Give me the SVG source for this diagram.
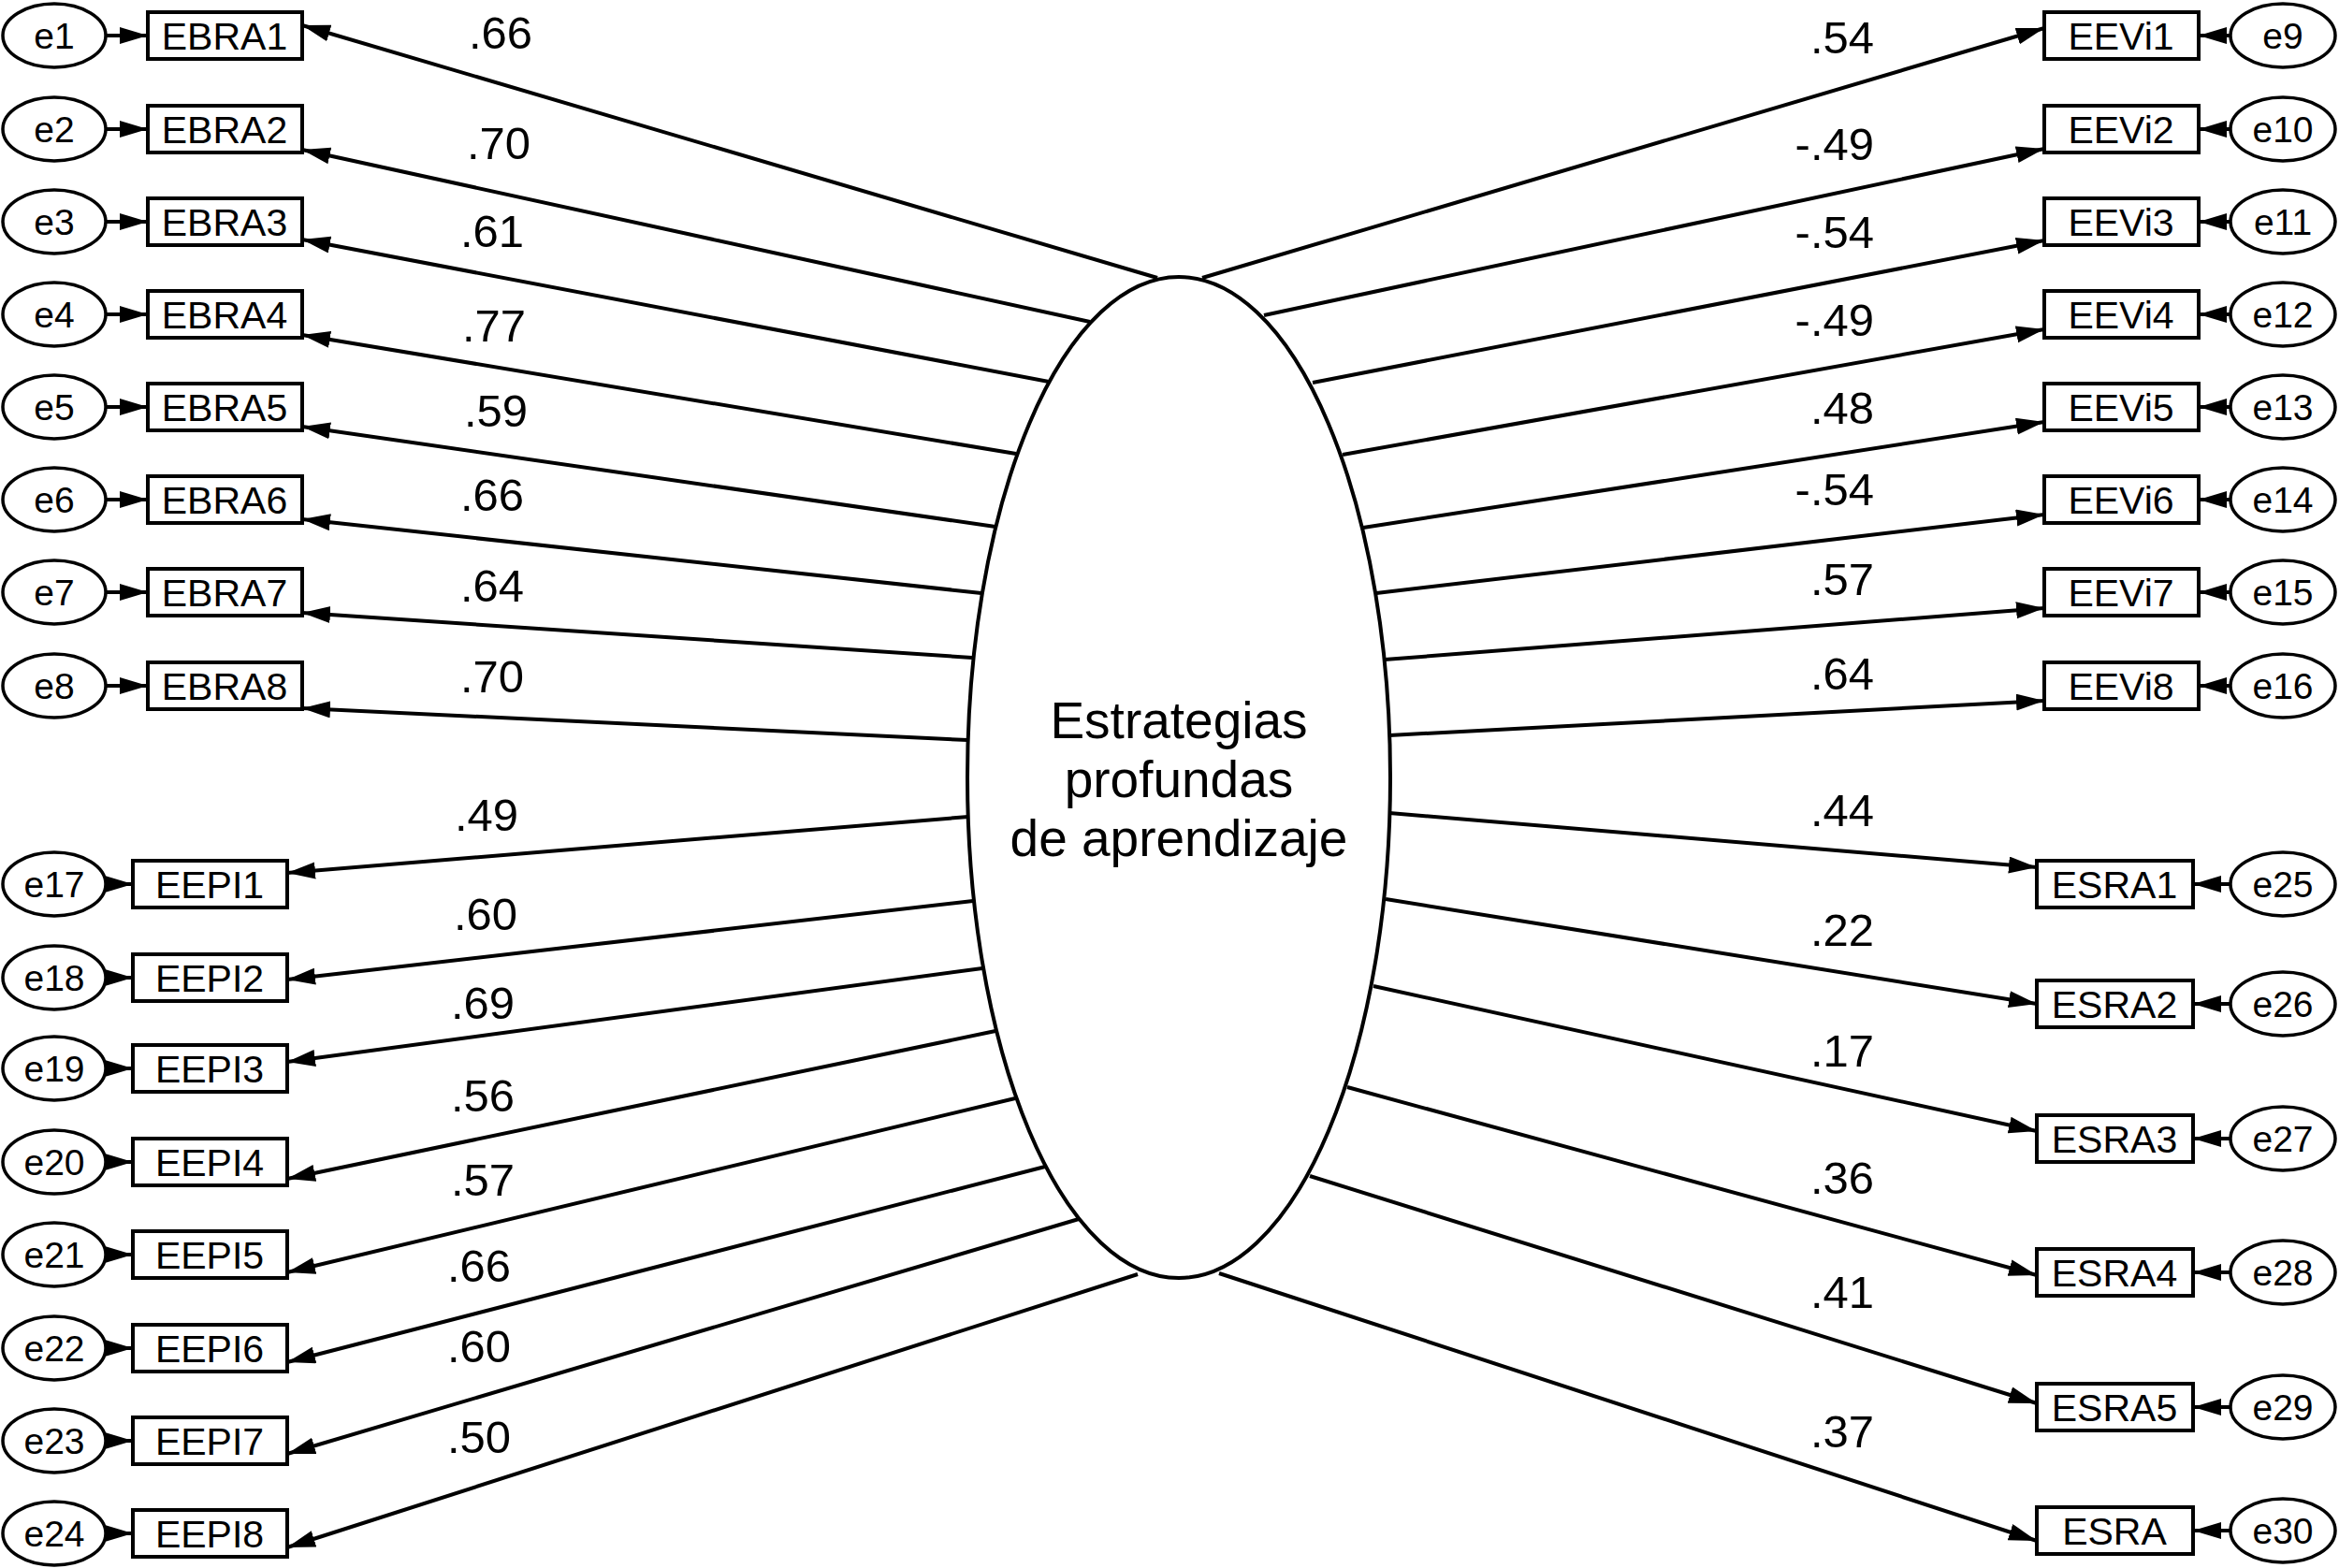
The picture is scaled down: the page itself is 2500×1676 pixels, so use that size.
<svg xmlns="http://www.w3.org/2000/svg" width="2500" height="1676" viewBox="0 0 2500 1676">
<style>
.box{fill:#fff;stroke:#000;stroke-width:4}
.err{fill:#fff;stroke:#000;stroke-width:3.5}
.lat{fill:#fff;stroke:#000;stroke-width:4}
.t{font-family:"Liberation Sans",Arial,sans-serif;font-size:41px;text-anchor:middle;fill:#000}
.te{font-family:"Liberation Sans",Arial,sans-serif;font-size:39px;text-anchor:middle;fill:#000}
.tl{font-family:"Liberation Sans",Arial,sans-serif;font-size:55px;text-anchor:middle;fill:#000}
.w{font-family:"Liberation Sans",Arial,sans-serif;font-size:49px;fill:#000}
.wl{text-anchor:middle}
.wr{text-anchor:end}
.c line{stroke:#000;stroke-width:4;marker-end:url(#ah)}
</style>
<defs>
<marker id="ah" markerUnits="userSpaceOnUse" markerWidth="32" markerHeight="20" refX="30" refY="9" orient="auto" viewBox="0 0 32 20">
<path d="M0,0 L30,9 L0,18 z" fill="#000"/>
</marker>
</defs>
<rect width="2500" height="1676" fill="#fff"/>

<g id="connectors" class="c">
<line x1="1237" y1="297" x2="323" y2="27"/>
<line x1="1165" y1="344" x2="323" y2="160"/>
<line x1="1121" y1="408" x2="323" y2="256"/>
<line x1="1086" y1="485" x2="323" y2="358"/>
<line x1="1064" y1="563" x2="323" y2="456"/>
<line x1="1049" y1="634" x2="323" y2="555"/>
<line x1="1039" y1="703" x2="323" y2="655"/>
<line x1="1034" y1="791" x2="323" y2="757"/>
<line x1="1035" y1="873" x2="307" y2="933"/>
<line x1="1040" y1="963" x2="307" y2="1047"/>
<line x1="1050" y1="1035" x2="307" y2="1135"/>
<line x1="1064" y1="1102" x2="307" y2="1260"/>
<line x1="1085" y1="1174" x2="307" y2="1360"/>
<line x1="1117" y1="1247" x2="307" y2="1456"/>
<line x1="1153" y1="1303" x2="307" y2="1554"/>
<line x1="1216" y1="1362" x2="307" y2="1654"/>
<line x1="1285" y1="297" x2="2185" y2="30"/>
<line x1="1351" y1="337" x2="2185" y2="159"/>
<line x1="1403" y1="409" x2="2185" y2="257"/>
<line x1="1435" y1="486" x2="2185" y2="352"/>
<line x1="1457" y1="564" x2="2185" y2="451"/>
<line x1="1471" y1="634" x2="2185" y2="550"/>
<line x1="1480" y1="705" x2="2185" y2="650"/>
<line x1="1485" y1="786" x2="2185" y2="749"/>
<line x1="1485" y1="869" x2="2177" y2="927"/>
<line x1="1481" y1="961" x2="2177" y2="1073"/>
<line x1="1468" y1="1054" x2="2177" y2="1209"/>
<line x1="1440" y1="1162" x2="2177" y2="1363"/>
<line x1="1400" y1="1257" x2="2177" y2="1500"/>
<line x1="1303" y1="1361" x2="2177" y2="1647"/>
<line x1="113" y1="38" x2="158" y2="38"/>
<line x1="113" y1="138" x2="158" y2="138"/>
<line x1="113" y1="237" x2="158" y2="237"/>
<line x1="113" y1="336" x2="158" y2="336"/>
<line x1="113" y1="435" x2="158" y2="435"/>
<line x1="113" y1="534" x2="158" y2="534"/>
<line x1="113" y1="633" x2="158" y2="633"/>
<line x1="113" y1="733" x2="158" y2="733"/>
<line x1="112" y1="945" x2="142" y2="945"/>
<line x1="112" y1="1045" x2="142" y2="1045"/>
<line x1="112" y1="1142" x2="142" y2="1142"/>
<line x1="112" y1="1242" x2="142" y2="1242"/>
<line x1="112" y1="1341" x2="142" y2="1341"/>
<line x1="112" y1="1441" x2="142" y2="1441"/>
<line x1="112" y1="1540" x2="142" y2="1540"/>
<line x1="112" y1="1639" x2="142" y2="1639"/>
<line x1="2384" y1="38" x2="2350" y2="38"/>
<line x1="2384" y1="138" x2="2350" y2="138"/>
<line x1="2384" y1="237" x2="2350" y2="237"/>
<line x1="2384" y1="336" x2="2350" y2="336"/>
<line x1="2384" y1="435" x2="2350" y2="435"/>
<line x1="2384" y1="534" x2="2350" y2="534"/>
<line x1="2384" y1="633" x2="2350" y2="633"/>
<line x1="2384" y1="733" x2="2350" y2="733"/>
<line x1="2384" y1="945" x2="2344" y2="945"/>
<line x1="2384" y1="1073" x2="2344" y2="1073"/>
<line x1="2384" y1="1217" x2="2344" y2="1217"/>
<line x1="2384" y1="1360" x2="2344" y2="1360"/>
<line x1="2384" y1="1504" x2="2344" y2="1504"/>
<line x1="2384" y1="1636" x2="2344" y2="1636"/>
</g>

<g id="weights" class="w">
<text class="w wl" x="535" y="52">.66</text>
<text class="w wl" x="533" y="170">.70</text>
<text class="w wl" x="526" y="264">.61</text>
<text class="w wl" x="528" y="365">.77</text>
<text class="w wl" x="530" y="456">.59</text>
<text class="w wl" x="526" y="546">.66</text>
<text class="w wl" x="526" y="643">.64</text>
<text class="w wl" x="526" y="740">.70</text>
<text class="w wl" x="520" y="888">.49</text>
<text class="w wl" x="519" y="994">.60</text>
<text class="w wl" x="516" y="1089">.69</text>
<text class="w wl" x="516" y="1188">.56</text>
<text class="w wl" x="516" y="1278">.57</text>
<text class="w wl" x="512" y="1370">.66</text>
<text class="w wl" x="512" y="1456">.60</text>
<text class="w wl" x="512" y="1553">.50</text>
<text class="w wr" x="2003" y="57">.54</text>
<text class="w wr" x="2003" y="171">-.49</text>
<text class="w wr" x="2003" y="265">-.54</text>
<text class="w wr" x="2003" y="359">-.49</text>
<text class="w wr" x="2003" y="453">.48</text>
<text class="w wr" x="2003" y="540">-.54</text>
<text class="w wr" x="2003" y="636">.57</text>
<text class="w wr" x="2003" y="737">.64</text>
<text class="w wr" x="2003" y="883">.44</text>
<text class="w wr" x="2003" y="1011">.22</text>
<text class="w wr" x="2003" y="1140">.17</text>
<text class="w wr" x="2003" y="1276">.36</text>
<text class="w wr" x="2003" y="1398">.41</text>
<text class="w wr" x="2003" y="1547">.37</text>
</g>

<g id="latent">
<ellipse class="lat" cx="1260" cy="831" rx="226" ry="535"/>
<text class="tl" x="1260" y="789">Estrategias</text>
<text class="tl" x="1260" y="852">profundas</text>
<text class="tl" x="1260" y="915">de aprendizaje</text>
</g>

<g id="EBRA1"><rect class="box" x="158" y="13" width="165" height="50"/><text class="t" x="240" y="53">EBRA1</text></g>
<g id="EBRA2"><rect class="box" x="158" y="113" width="165" height="50"/><text class="t" x="240" y="153">EBRA2</text></g>
<g id="EBRA3"><rect class="box" x="158" y="212" width="165" height="50"/><text class="t" x="240" y="252">EBRA3</text></g>
<g id="EBRA4"><rect class="box" x="158" y="311" width="165" height="50"/><text class="t" x="240" y="351">EBRA4</text></g>
<g id="EBRA5"><rect class="box" x="158" y="410" width="165" height="50"/><text class="t" x="240" y="450">EBRA5</text></g>
<g id="EBRA6"><rect class="box" x="158" y="509" width="165" height="50"/><text class="t" x="240" y="549">EBRA6</text></g>
<g id="EBRA7"><rect class="box" x="158" y="608" width="165" height="50"/><text class="t" x="240" y="648">EBRA7</text></g>
<g id="EBRA8"><rect class="box" x="158" y="708" width="165" height="50"/><text class="t" x="240" y="748">EBRA8</text></g>

<g id="EEPI1"><rect class="box" x="142" y="920" width="165" height="50"/><text class="t" x="224" y="960">EEPI1</text></g>
<g id="EEPI2"><rect class="box" x="142" y="1020" width="165" height="50"/><text class="t" x="224" y="1060">EEPI2</text></g>
<g id="EEPI3"><rect class="box" x="142" y="1117" width="165" height="50"/><text class="t" x="224" y="1157">EEPI3</text></g>
<g id="EEPI4"><rect class="box" x="142" y="1217" width="165" height="50"/><text class="t" x="224" y="1257">EEPI4</text></g>
<g id="EEPI5"><rect class="box" x="142" y="1316" width="165" height="50"/><text class="t" x="224" y="1356">EEPI5</text></g>
<g id="EEPI6"><rect class="box" x="142" y="1416" width="165" height="50"/><text class="t" x="224" y="1456">EEPI6</text></g>
<g id="EEPI7"><rect class="box" x="142" y="1515" width="165" height="50"/><text class="t" x="224" y="1555">EEPI7</text></g>
<g id="EEPI8"><rect class="box" x="142" y="1614" width="165" height="50"/><text class="t" x="224" y="1654">EEPI8</text></g>

<g id="EEVi1"><rect class="box" x="2185" y="13" width="165" height="50"/><text class="t" x="2267" y="53">EEVi1</text></g>
<g id="EEVi2"><rect class="box" x="2185" y="113" width="165" height="50"/><text class="t" x="2267" y="153">EEVi2</text></g>
<g id="EEVi3"><rect class="box" x="2185" y="212" width="165" height="50"/><text class="t" x="2267" y="252">EEVi3</text></g>
<g id="EEVi4"><rect class="box" x="2185" y="311" width="165" height="50"/><text class="t" x="2267" y="351">EEVi4</text></g>
<g id="EEVi5"><rect class="box" x="2185" y="410" width="165" height="50"/><text class="t" x="2267" y="450">EEVi5</text></g>
<g id="EEVi6"><rect class="box" x="2185" y="509" width="165" height="50"/><text class="t" x="2267" y="549">EEVi6</text></g>
<g id="EEVi7"><rect class="box" x="2185" y="608" width="165" height="50"/><text class="t" x="2267" y="648">EEVi7</text></g>
<g id="EEVi8"><rect class="box" x="2185" y="708" width="165" height="50"/><text class="t" x="2267" y="748">EEVi8</text></g>

<g id="ESRA1"><rect class="box" x="2177" y="920" width="167" height="50"/><text class="t" x="2260" y="960">ESRA1</text></g>
<g id="ESRA2"><rect class="box" x="2177" y="1048" width="167" height="50"/><text class="t" x="2260" y="1088">ESRA2</text></g>
<g id="ESRA3"><rect class="box" x="2177" y="1192" width="167" height="50"/><text class="t" x="2260" y="1232">ESRA3</text></g>
<g id="ESRA4"><rect class="box" x="2177" y="1335" width="167" height="50"/><text class="t" x="2260" y="1375">ESRA4</text></g>
<g id="ESRA5"><rect class="box" x="2177" y="1479" width="167" height="50"/><text class="t" x="2260" y="1519">ESRA5</text></g>
<g id="ESRA"><rect class="box" x="2177" y="1611" width="167" height="50"/><text class="t" x="2260" y="1651">ESRA</text></g>

<g id="e1"><ellipse class="err" cx="58" cy="38" rx="55" ry="34"/><text class="te" x="58" y="52">e1</text></g>
<g id="e2"><ellipse class="err" cx="58" cy="138" rx="55" ry="34"/><text class="te" x="58" y="152">e2</text></g>
<g id="e3"><ellipse class="err" cx="58" cy="237" rx="55" ry="34"/><text class="te" x="58" y="251">e3</text></g>
<g id="e4"><ellipse class="err" cx="58" cy="336" rx="55" ry="34"/><text class="te" x="58" y="350">e4</text></g>
<g id="e5"><ellipse class="err" cx="58" cy="435" rx="55" ry="34"/><text class="te" x="58" y="449">e5</text></g>
<g id="e6"><ellipse class="err" cx="58" cy="534" rx="55" ry="34"/><text class="te" x="58" y="548">e6</text></g>
<g id="e7"><ellipse class="err" cx="58" cy="633" rx="55" ry="34"/><text class="te" x="58" y="647">e7</text></g>
<g id="e8"><ellipse class="err" cx="58" cy="733" rx="55" ry="34"/><text class="te" x="58" y="747">e8</text></g>

<g id="e17"><ellipse class="err" cx="58" cy="945" rx="55" ry="34"/><text class="te" x="58" y="959">e17</text></g>
<g id="e18"><ellipse class="err" cx="58" cy="1045" rx="55" ry="34"/><text class="te" x="58" y="1059">e18</text></g>
<g id="e19"><ellipse class="err" cx="58" cy="1142" rx="55" ry="34"/><text class="te" x="58" y="1156">e19</text></g>
<g id="e20"><ellipse class="err" cx="58" cy="1242" rx="55" ry="34"/><text class="te" x="58" y="1256">e20</text></g>
<g id="e21"><ellipse class="err" cx="58" cy="1341" rx="55" ry="34"/><text class="te" x="58" y="1355">e21</text></g>
<g id="e22"><ellipse class="err" cx="58" cy="1441" rx="55" ry="34"/><text class="te" x="58" y="1455">e22</text></g>
<g id="e23"><ellipse class="err" cx="58" cy="1540" rx="55" ry="34"/><text class="te" x="58" y="1554">e23</text></g>
<g id="e24"><ellipse class="err" cx="58" cy="1639" rx="55" ry="34"/><text class="te" x="58" y="1653">e24</text></g>

<g id="e9"><ellipse class="err" cx="2440" cy="38" rx="56" ry="34"/><text class="te" x="2440" y="52">e9</text></g>
<g id="e10"><ellipse class="err" cx="2440" cy="138" rx="56" ry="34"/><text class="te" x="2440" y="152">e10</text></g>
<g id="e11"><ellipse class="err" cx="2440" cy="237" rx="56" ry="34"/><text class="te" x="2440" y="251">e11</text></g>
<g id="e12"><ellipse class="err" cx="2440" cy="336" rx="56" ry="34"/><text class="te" x="2440" y="350">e12</text></g>
<g id="e13"><ellipse class="err" cx="2440" cy="435" rx="56" ry="34"/><text class="te" x="2440" y="449">e13</text></g>
<g id="e14"><ellipse class="err" cx="2440" cy="534" rx="56" ry="34"/><text class="te" x="2440" y="548">e14</text></g>
<g id="e15"><ellipse class="err" cx="2440" cy="633" rx="56" ry="34"/><text class="te" x="2440" y="647">e15</text></g>
<g id="e16"><ellipse class="err" cx="2440" cy="733" rx="56" ry="34"/><text class="te" x="2440" y="747">e16</text></g>

<g id="e25"><ellipse class="err" cx="2440" cy="945" rx="56" ry="34"/><text class="te" x="2440" y="959">e25</text></g>
<g id="e26"><ellipse class="err" cx="2440" cy="1073" rx="56" ry="34"/><text class="te" x="2440" y="1087">e26</text></g>
<g id="e27"><ellipse class="err" cx="2440" cy="1217" rx="56" ry="34"/><text class="te" x="2440" y="1231">e27</text></g>
<g id="e28"><ellipse class="err" cx="2440" cy="1360" rx="56" ry="34"/><text class="te" x="2440" y="1374">e28</text></g>
<g id="e29"><ellipse class="err" cx="2440" cy="1504" rx="56" ry="34"/><text class="te" x="2440" y="1518">e29</text></g>
<g id="e30"><ellipse class="err" cx="2440" cy="1636" rx="56" ry="34"/><text class="te" x="2440" y="1650">e30</text></g>
</svg>
